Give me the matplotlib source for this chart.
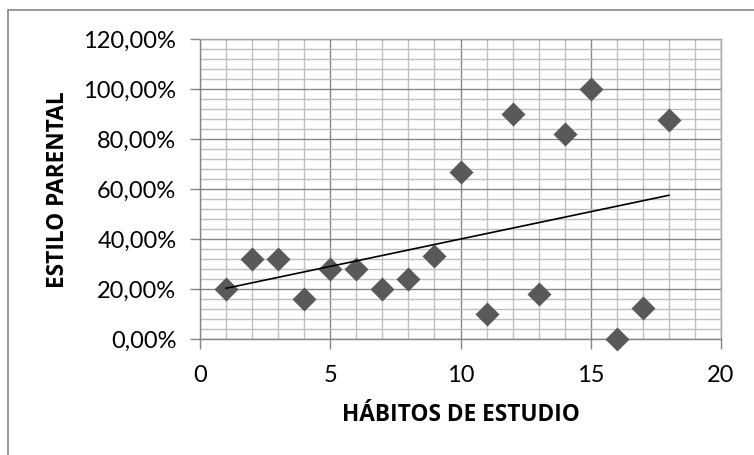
import numpy as np
import matplotlib
matplotlib.use("Agg")
import matplotlib.pyplot as plt
from matplotlib.ticker import MultipleLocator, FuncFormatter
from matplotlib.patches import Rectangle

# Hábitos de estudio vs. estilo parental (%)
habitos = [1, 2, 3, 4, 5, 6, 7, 8, 9, 10, 11, 12, 13, 14, 15, 16, 17, 18]
estilo = [20, 32, 32, 16, 28, 28, 20, 24, 33.33, 66.67, 10, 90, 18, 82, 100, 0, 12.5, 87.5]

x_label = "HÁBITOS DE ESTUDIO"
y_label = "ESTILO PARENTAL"

plt.rcParams['font.family'] = ['Lato', 'DejaVu Sans']

fig = plt.figure(figsize=(7.54, 4.55), dpi=100)
W, H = 754, 455
ax = fig.add_axes([200 / W, 1 - 339 / H, 521 / W, 300 / H])

# outer chart frame
fig.patches.append(Rectangle((8 / W, -0.1), 1.2, 1 - 10 / H + 0.1,
                             transform=fig.transFigure, fill=False,
                             edgecolor='#868686', linewidth=1.2))

ax.set_xlim(0, 20)
ax.set_ylim(0, 120)
ax.xaxis.set_major_locator(MultipleLocator(5))
ax.xaxis.set_minor_locator(MultipleLocator(1))
ax.yaxis.set_major_locator(MultipleLocator(20))
ax.yaxis.set_minor_locator(MultipleLocator(4))
ax.yaxis.set_major_formatter(FuncFormatter(lambda v, p: f"{v:.2f}%".replace('.', ',')))

ax.grid(which='minor', color='#bfbfbf', linewidth=1.0)
ax.grid(which='major', color='#868686', linewidth=1.0)
ax.set_axisbelow(True)

for side in ['top', 'right']:
    ax.spines[side].set_color('#a6a6a6')
    ax.spines[side].set_linewidth(1.0)
for side in ['left', 'bottom']:
    ax.spines[side].set_color('#868686')
    ax.spines[side].set_linewidth(1.0)

ax.tick_params(which='major', direction='out', length=7, width=1, color='#868686',
               labelsize=17, labelcolor='black')
ax.tick_params(axis='y', which='major', pad=10)
ax.tick_params(axis='x', which='major', pad=12)
ax.tick_params(which='minor', length=0)

ax.scatter(habitos, estilo, marker='D', s=150, color='#595959', zorder=3,
           linewidths=0, clip_on=False)

# linear trend line
coef = np.polyfit(habitos, estilo, 1)
xs = np.array([min(habitos), max(habitos)])
ax.plot(xs, np.polyval(coef, xs), color='black', linewidth=1.2, zorder=4)

fig.text(461 / W, 1 - 415 / H, x_label, fontsize=16.3, fontweight='bold',
         family=['Open Sans', 'DejaVu Sans'], ha='center', va='center')
fig.text(58 / W, 1 - 189.5 / H, y_label, fontsize=16.3, fontweight='bold',
         family=['Open Sans', 'DejaVu Sans'], ha='center', va='center', rotation=90)

fig.savefig("out.png", dpi=100)
